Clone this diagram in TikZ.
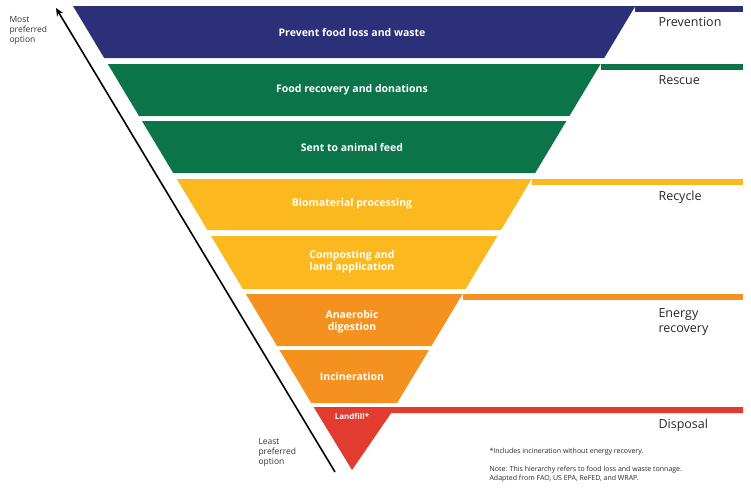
\documentclass[tikz,border=0pt]{standalone}
\usepackage{fontspec}
\setmainfont{Open Sans}
\usetikzlibrary{arrows.meta}
\definecolor{cblue}{HTML}{2B3079}
\definecolor{cgreen}{HTML}{0B7549}
\definecolor{cyellow}{HTML}{FBB81F}
\definecolor{corange}{HTML}{F5921F}
\definecolor{cred}{HTML}{E23B30}
\newcommand{\xl}[1]{73+0.6*(#1-6)}
\newcommand{\xr}[1]{357+0.6*(470-#1)}
\newcommand{\band}[3]{\fill[#3] ({\xl{#1}},#1) -- ({\xr{#1}},#1) -- ({\xr{#2}},#2) -- ({\xl{#2}},#2) -- cycle;}
\newcommand{\tierbar}[2]{\fill[#2] ({\xr{#1}},#1) rectangle (743,#1+5.5);}
\begin{document}
\begin{tikzpicture}[x=1pt,y=-1pt,
  lab/.style={text=white,font=\bfseries\fontsize{10.5}{12.5}\selectfont,align=center},
  tier/.style={anchor=west,font=\fontsize{12.5}{15}\selectfont,align=left,text=black!85},
  side/.style={anchor=west,font=\fontsize{8.5}{10}\selectfont,align=left,text=black!80},
  note/.style={anchor=west,font=\fontsize{7}{9}\selectfont,align=left,text=black!85}]
\useasboundingbox (0,0) rectangle (751,491);
\band{6}{58}{cblue}\tierbar{6}{cblue}
\band{64}{116}{cgreen}\tierbar{64}{cgreen}
\band{121}{173}{cgreen}
\band{179}{230}{cyellow}\tierbar{179}{cyellow}
\band{236}{289}{cyellow}
\band{294}{346}{corange}\tierbar{294}{corange}
\band{350}{403}{corange}
\fill[cred] ({\xl{407}},407) -- (743,407) -- (743,413) -- ({\xr{413}},413) -- (352,470) -- cycle;
\node[lab] (p) at (352,33) {Prevent food loss and waste};
\node[lab] (r1) at (352,90) {Food recovery and donations};
\node[lab] (r2) at (352,148) {Sent to animal feed};
\node[lab] (y1) at (352,204) {Biomaterial processing};
\node[lab] (y2) at (352,262) {Composting and\\land application};
\node[lab] (e1) at (352,322) {Anaerobic\\digestion};
\node[lab] (e2) at (352,377) {Incineration};
\node[lab,font=\bfseries\fontsize{8}{10}\selectfont] (d) at (352,416) {Landfill*};
\node[tier] (tp) at (655,22) {Prevention};
\node[tier] (tr) at (655,80) {Rescue};
\node[tier] (ty) at (655,197) {Recycle};
\node[tier] (te) at (655,322) {Energy\\recovery};
\node[tier] (td) at (655,425) {Disposal};
\node[side] (mp) at (6,30) {Most\\preferred\\option};
\node[side] (lp) at (255,452) {Least\\preferred\\option};
\node[note] (n1) at (486,452) {*Includes incineration without energy recovery.};
\node[note] (n2) at (486,474) {Note: This hierarchy refers to food loss and waste tonnage.\\Adapted from FAO, US EPA, ReFED, and WRAP.};
\coordinate (a0) at (335,472);
\coordinate (a1) at (56,8);
\draw[line width=1.6pt,-{Stealth[length=8pt,width=7pt]}] (a0) -- (a1);
\end{tikzpicture}
\end{document}
